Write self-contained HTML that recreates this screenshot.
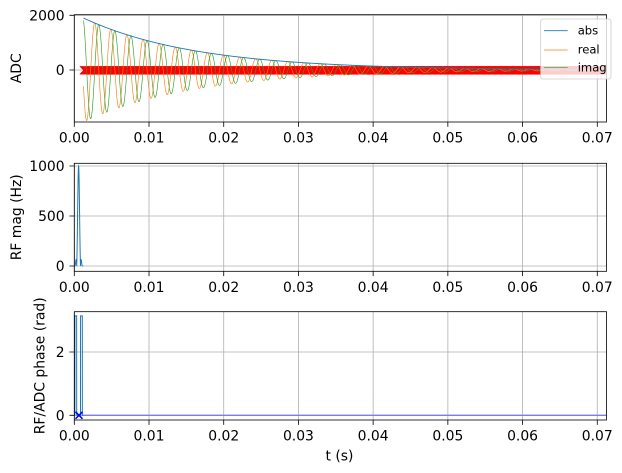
<!DOCTYPE html>
<html><head><meta charset="utf-8"><style>
html,body{margin:0;padding:0;background:#fff;}
svg{display:block;}
text{font-family:"DejaVu Sans","Liberation Sans",sans-serif;font-size:13.9px;fill:#000;}
.lg{font-size:11.6px;}
</style></head><body>
<svg id="s" width="622" height="473" viewBox="0 0 622 473" xmlns="http://www.w3.org/2000/svg">
<rect width="622" height="473" fill="#fff"/>
<defs>
<clipPath id="c1"><rect x="74.3" y="14.7" width="532.2" height="107.3"/></clipPath>
<clipPath id="c2"><rect x="74.3" y="163.3" width="532.2" height="108"/></clipPath>
<clipPath id="c3"><rect x="74.3" y="311.7" width="532.2" height="108.3"/></clipPath>
</defs>

<!-- grids -->
<g stroke="#b0b0b0" stroke-width="0.8" fill="none">
  <path d="M74.3,14.7V122 M149.01,14.7V122 M223.72,14.7V122 M298.43,14.7V122 M373.14,14.7V122 M447.85,14.7V122 M522.56,14.7V122 M597.27,14.7V122 M74.3,70H606.5 M74.3,15.3H606.5"/>
  <path d="M74.3,163.3V271.3 M149.01,163.3V271.3 M223.72,163.3V271.3 M298.43,163.3V271.3 M373.14,163.3V271.3 M447.85,163.3V271.3 M522.56,163.3V271.3 M597.27,163.3V271.3 M74.3,166H606.5 M74.3,216H606.5 M74.3,266H606.5"/>
  <path d="M74.3,311.7V420 M149.01,311.7V420 M223.72,311.7V420 M298.43,311.7V420 M373.14,311.7V420 M447.85,311.7V420 M522.56,311.7V420 M597.27,311.7V420 M74.3,352H606.5 M74.3,415.3H606.5"/>
</g>

<!-- data (filled by script) -->
<g clip-path="url(#c1)">
  <path id="mk" fill="none" stroke="#ff0000" stroke-width="1"/>
  <path id="re" fill="none" stroke="#ff7f0e" stroke-width="0.65"/>
  <path id="im" fill="none" stroke="#2ca02c" stroke-width="0.65"/>
  <path id="ab" fill="none" stroke="#1f77b4" stroke-width="0.9"/>
</g>
<g clip-path="url(#c2)">
  <path id="mag" fill="none" stroke="#1f77b4" stroke-width="1"/>
</g>
<g clip-path="url(#c3)">
  <path d="M81.5,415.3H606.5" stroke="#7b7bf5" stroke-width="1.4" fill="none"/>
  <path id="ph" fill="none" stroke="#1f77b4" stroke-width="1"/>
  <path d="M75.5,411.8L82.5,418.8M75.5,418.8L82.5,411.8" stroke="#0000ff" stroke-width="1.5" fill="none"/>
</g>

<!-- spines -->
<g fill="none" stroke="#000" stroke-width="0.8">
  <rect x="74.3" y="14.7" width="532.2" height="107.3"/>
  <rect x="74.3" y="163.3" width="532.2" height="108"/>
  <rect x="74.3" y="311.7" width="532.2" height="108.3"/>
</g>

<!-- ticks -->
<g stroke="#000" stroke-width="0.8">
  <path d="M74.3,122v4.86 M149.01,122v4.86 M223.72,122v4.86 M298.43,122v4.86 M373.14,122v4.86 M447.85,122v4.86 M522.56,122v4.86 M597.27,122v4.86 M74.3,15.3h-4.86 M74.3,70h-4.86"/>
  <path d="M74.3,271.3v4.86 M149.01,271.3v4.86 M223.72,271.3v4.86 M298.43,271.3v4.86 M373.14,271.3v4.86 M447.85,271.3v4.86 M522.56,271.3v4.86 M597.27,271.3v4.86 M74.3,166h-4.86 M74.3,216h-4.86 M74.3,266h-4.86"/>
  <path d="M74.3,420v4.86 M149.01,420v4.86 M223.72,420v4.86 M298.43,420v4.86 M373.14,420v4.86 M447.85,420v4.86 M522.56,420v4.86 M597.27,420v4.86 M74.3,352h-4.86 M74.3,415.3h-4.86"/>
</g>

<!-- tick labels -->
<g text-anchor="end">
  <text x="64.6" y="20.3">2000</text>
  <text x="64.6" y="75">0</text>
  <text x="64.6" y="171">1000</text>
  <text x="64.6" y="221">500</text>
  <text x="64.6" y="271">0</text>
  <text x="64.6" y="357">2</text>
  <text x="64.6" y="420.3">0</text>
</g>
<g text-anchor="middle">
  <text x="74.3" y="142.7">0.00</text><text x="149.01" y="142.7">0.01</text><text x="223.72" y="142.7">0.02</text><text x="298.43" y="142.7">0.03</text><text x="373.14" y="142.7">0.04</text><text x="447.85" y="142.7">0.05</text><text x="522.56" y="142.7">0.06</text><text x="597.27" y="142.7">0.07</text>
  <text x="74.3" y="292">0.00</text><text x="149.01" y="292">0.01</text><text x="223.72" y="292">0.02</text><text x="298.43" y="292">0.03</text><text x="373.14" y="292">0.04</text><text x="447.85" y="292">0.05</text><text x="522.56" y="292">0.06</text><text x="597.27" y="292">0.07</text>
  <text x="74.3" y="440.7">0.00</text><text x="149.01" y="440.7">0.01</text><text x="223.72" y="440.7">0.02</text><text x="298.43" y="440.7">0.03</text><text x="373.14" y="440.7">0.04</text><text x="447.85" y="440.7">0.05</text><text x="522.56" y="440.7">0.06</text><text x="597.27" y="440.7">0.07</text>
  <text x="339.5" y="460.7">t (s)</text>
  <text transform="translate(21,68.3) rotate(-90)">ADC</text>
  <text transform="translate(21,217.3) rotate(-90)">RF mag (Hz)</text>
  <text transform="translate(44.5,365.8) rotate(-90)">RF/ADC phase (rad)</text>
</g>

<!-- legend -->
<rect x="540.7" y="19" width="70.3" height="60" rx="2.5" ry="2.5" fill="#fff" fill-opacity="0.8" stroke="#cccccc" stroke-width="0.8"/>
<path d="M544,30.7H567.7" stroke="#1f77b4" stroke-width="0.9"/>
<path d="M544,50H567.7" stroke="#ff7f0e" stroke-width="0.65"/>
<path d="M544,67.7H567.7" stroke="#2ca02c" stroke-width="0.65"/>
<text class="lg" x="577.7" y="34.3">abs</text>
<text class="lg" x="577.7" y="53.5">real</text>
<text class="lg" x="577.7" y="71.5">imag</text>
</svg>
<script>
(function(){
  function X(t){return 74.3+t*7471;}
  var t0=0.00123,T=0.015,A0=1900,f=464,th0=1.885;
  var ab=[],re=[],im=[];
  for(var t=t0;t<=0.0715;t+=0.00003){
    var a=A0*Math.exp(-(t-t0)/T),th=th0+2*Math.PI*f*(t-t0);
    var x=X(t).toFixed(2);
    ab.push(x+','+(70-a*0.02735).toFixed(2));
    re.push(x+','+(70-a*Math.cos(th)*0.02735).toFixed(2));
    im.push(x+','+(70-a*Math.sin(th)*0.02735).toFixed(2));
  }
  document.getElementById('ab').setAttribute('d','M'+ab.join('L'));
  document.getElementById('re').setAttribute('d','M'+re.join('L'));
  document.getElementById('im').setAttribute('d','M'+im.join('L'));
  var mk='';
  for(var px=84;px<=610;px+=1.2){
    var l=(px-4.1).toFixed(2),r=(px+4.1).toFixed(2);
    mk+='M'+l+',66.2L'+r+',74.4M'+l+',74.4L'+r+',66.2';
  }
  document.getElementById('mk').setAttribute('d',mk);
  var mg=[],ph=[];
  var tc=78.6,D=1.9;
  for(var p=74.3;p<=83.2;p+=0.05){
    var u=(p-tc)/D,v=0;
    if(Math.abs(u)<=2){
      var s=(Math.abs(u)<1e-6)?1:Math.sin(Math.PI*u)/(Math.PI*u);
      var w=0.54+0.46*Math.cos(Math.PI*u/2);
      v=s*w;
    }
    mg.push(p.toFixed(2)+','+(266-Math.abs(v)*1000*0.1).toFixed(2));
    ph.push(p.toFixed(2)+','+(v< -0.002?(415.3-Math.PI*31.65):415.3).toFixed(2));
  }
  document.getElementById('mag').setAttribute('d','M'+mg.join('L'));
  document.getElementById('ph').setAttribute('d','M'+ph.join('L'));
})();
</script>
</body></html>
